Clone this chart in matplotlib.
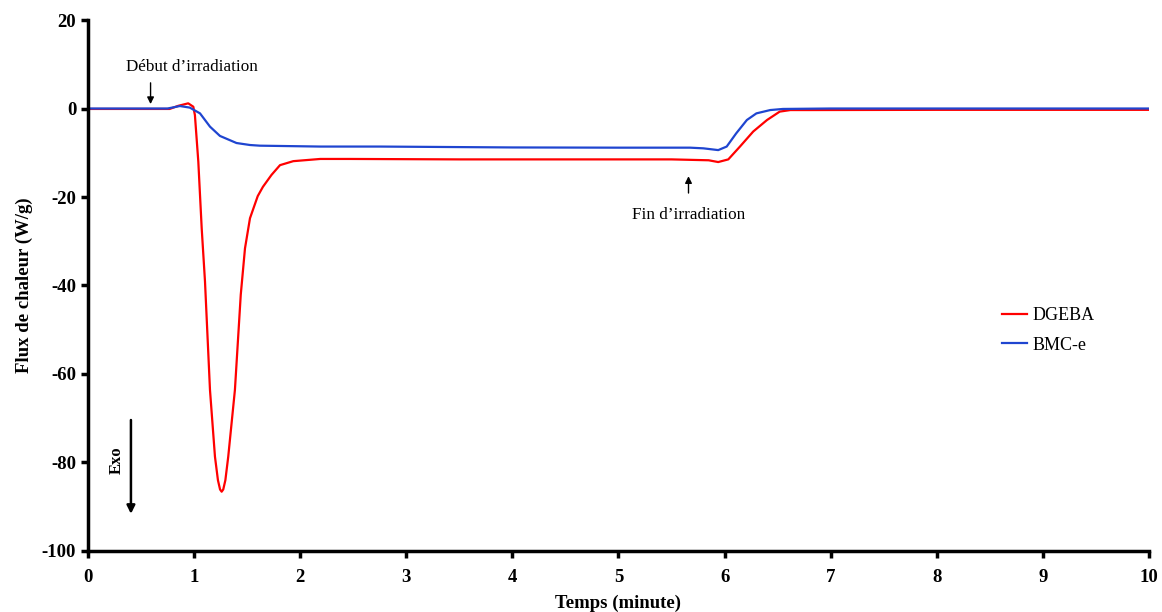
import matplotlib
matplotlib.use('Agg')
import matplotlib.pyplot as plt
import numpy as np

# DGEBA curve (red)
dgeba_t = [0.0, 0.5, 0.77, 0.85, 0.945, 0.993, 1.008, 1.04, 1.072, 1.103, 1.15, 1.197, 1.225, 1.245,
           1.26, 1.275, 1.295, 1.322, 1.385, 1.44, 1.48, 1.527, 1.60, 1.649, 1.73, 1.81, 1.935, 2.19,
           2.47, 3.5, 4.5, 5.5, 5.674, 5.85, 5.94, 6.035, 6.145, 6.27, 6.40, 6.52, 6.62, 6.8, 8.0, 10.0]
dgeba_q = [-0.1, -0.1, -0.1, 0.6, 1.17, 0.4, -1.5, -12.0, -27.1, -39.1, -63.6, -78.7, -84.0, -86.1,
           -86.6, -86.1, -84.0, -78.7, -63.6, -42.1, -31.6, -24.8, -19.8, -17.7, -15.0, -12.8, -11.9,
           -11.4, -11.4, -11.5, -11.5, -11.5, -11.6, -11.7, -12.1, -11.5, -8.6, -5.2, -2.6, -0.7, -0.35,
           -0.35, -0.3, -0.3]

# BMC-e curve (blue)
bmc_t = [0.0, 0.5, 0.75, 0.867, 0.96, 1.056, 1.15, 1.244, 1.40, 1.527, 1.62, 2.19, 2.75, 4.0, 5.0,
         5.674, 5.80, 5.94, 6.02, 6.11, 6.21, 6.30, 6.43, 6.55, 7.0, 8.0, 10.0]
bmc_q = [0.0, 0.0, 0.0, 0.56, 0.2, -1.1, -4.1, -6.2, -7.8, -8.25, -8.4, -8.6, -8.6, -8.8, -8.85,
         -8.85, -9.0, -9.4, -8.6, -5.6, -2.6, -1.1, -0.35, -0.1, 0.0, 0.0, 0.0]

ticks_x = list(range(0, 11))
ticks_y = [20, 0, -20, -40, -60, -80, -100]

plt.rcParams['font.family'] = ['Liberation Serif', 'DejaVu Serif']
plt.rcParams['axes.unicode_minus'] = False

fig = plt.figure(figsize=(11.62, 6.12), dpi=100)
ax = fig.add_axes([0.0757, 0.0997, 0.9131, 0.8676])

ax.plot(dgeba_t, dgeba_q, color='#ff0000', lw=1.6, label='DGEBA')
ax.plot(bmc_t, bmc_q, color='#1f45d0', lw=1.6, label='BMC-e')

ax.set_xlim(0, 10)
ax.set_ylim(-100, 20)
ax.set_xticks(ticks_x)
ax.set_yticks(ticks_y)
for s in ['top', 'right']:
    ax.spines[s].set_visible(False)
for s in ['left', 'bottom']:
    ax.spines[s].set_linewidth(2.5)
ax.tick_params(direction='out', width=2.5, length=5, labelsize=13.5)
ax.tick_params(axis='x', pad=8)
for lab in ax.get_xticklabels() + ax.get_yticklabels():
    lab.set_fontweight('bold')

ax.set_xlabel('Temps (minute)', fontsize=13.5, fontweight='bold', labelpad=6)
ax.set_ylabel('Flux de chaleur (W/g)', fontsize=13.5, fontweight='bold', labelpad=6)

# annotations
arr = dict(arrowstyle='-|>', color='black', lw=1, mutation_scale=10, shrinkA=0, shrinkB=0)
ax.annotate('', xy=(0.59, 1.0), xytext=(0.59, 5.8), arrowprops=arr)
ax.text(0.98, 9.3, 'Début d\u2019irradiation', fontsize=12.3, ha='center', va='center')
ax.annotate('', xy=(5.66, -15.3), xytext=(5.66, -19.1), arrowprops=arr)
ax.text(5.66, -24.0, 'Fin d\u2019irradiation', fontsize=12.3, ha='center', va='center')
ax.annotate('', xy=(0.405, -91.6), xytext=(0.405, -70.4),
            arrowprops=dict(arrowstyle='-|>', color='black', lw=1.8, mutation_scale=12,
                            shrinkA=0, shrinkB=0))
ax.text(0.27, -79.5, 'Exo', fontsize=12, fontweight='bold', rotation=90, ha='center', va='center')

ax.legend(loc='upper left', bbox_to_anchor=(0.846, 0.49), frameon=False, fontsize=13,
          handlelength=1.4, handletextpad=0.3, labelspacing=0.7)

fig.savefig('out.png', dpi=100)
